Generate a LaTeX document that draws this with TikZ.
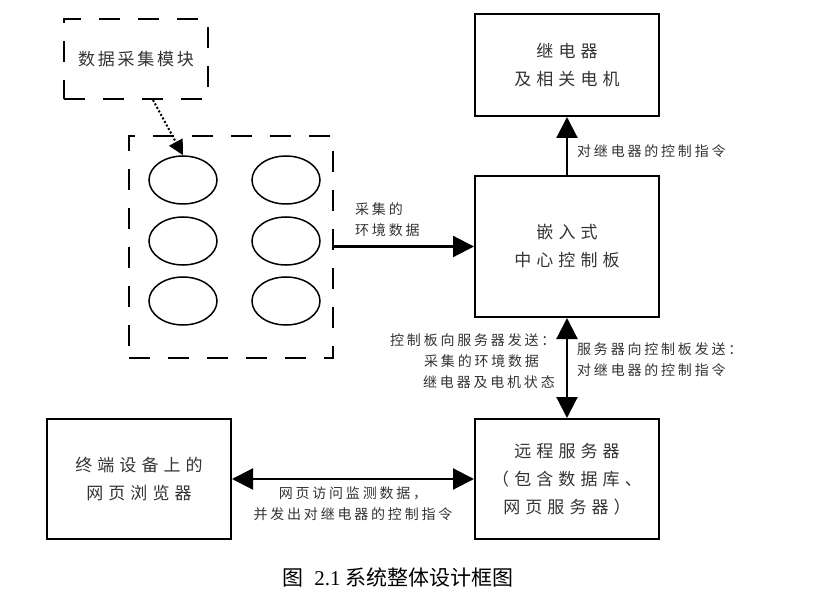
\documentclass[tikz,border=0pt]{standalone}
\usepackage{fontspec}
\setmainfont{Liberation Serif}
\newfontfamily\cjk{Noto Sans CJK SC}
\newfontfamily\boxfont[LetterSpace=30]{Noto Sans CJK SC}
\newfontfamily\modfont[LetterSpace=16]{Noto Sans CJK SC}
\newfontfamily\lblfont[LetterSpace=20]{Noto Sans CJK SC}
\usetikzlibrary{arrows.meta,shapes.geometric}
\tikzset{
  solidbox/.style={draw, line width=2pt, minimum width=184pt, align=center, inner sep=0pt,
    text=black!80, font=\boxfont\fontsize{17}{28}\selectfont},
  dashbox/.style={draw, line width=2pt, dash pattern=on 21pt off 18pt, inner sep=0pt},
  cell/.style={draw, ellipse, line width=1.5pt, minimum width=68pt, minimum height=48pt, inner sep=0pt},
  lbl/.style={inner sep=0pt, text=black!80, font=\lblfont\fontsize{14}{21}\selectfont},
  conn/.style={line width=2.2pt, -{Triangle[length=21pt,width=21pt]}},
  biconn/.style={line width=2.2pt, {Triangle[length=21pt,width=21pt]}-{Triangle[length=21pt,width=21pt]}},
}
\begin{document}
\begin{tikzpicture}[x=1pt,y=-1pt]
\useasboundingbox (0,0) rectangle (823,599);
% data collection module
\node[dashbox, minimum width=144pt, minimum height=80pt, text=black!80,
  font=\modfont\fontsize{17}{24}\selectfont] (mod) at (136,59) {数据采集模块};
% sensor group
\node[dashbox, minimum width=204pt, minimum height=222pt] (grp) at (231,247) {};
\node[cell] (c11) at (183,180) {};
\node[cell] (c12) at (286,180) {};
\node[cell] (c21) at (183,241) {};
\node[cell] (c22) at (286,241) {};
\node[cell] (c31) at (183,301) {};
\node[cell] (c32) at (286,301) {};
\coordinate (modout) at (153,100);
\draw[line width=2pt, dotted, -{Triangle[length=15pt,width=15pt]}] (modout) -- (c11.north);
% boxes
\node[solidbox, minimum height=102pt] (relay) at (567,65) {继电器\\及相关电机};
\node[solidbox, minimum height=141pt] (ctrl) at (567,246.5) {嵌入式\\中心控制板};
\node[solidbox, minimum height=120pt] (srv) at (567,479)
  {远程服务器\\（包含数据库、\\网页服务器）};
\node[solidbox, minimum height=120pt] (web) at (139,479) {终端设备上的\\网页浏览器};
% connectors
\coordinate (grpout) at (grp.east |- ctrl.west);
\draw[conn] (grpout) -- (ctrl.west);
\draw[conn] (ctrl.north) -- (relay.south);
\draw[biconn] (ctrl.south) -- (srv.north);
\draw[biconn] (web.east) -- (srv.west);
% labels
\node[lbl, align=left, anchor=north west] (l1) at (355,202) {采集的\\环境数据};
\node[lbl, anchor=west] (l2) at (577,151) {对继电器的控制指令};
\node[lbl, align=left, anchor=north west] (l3) at (390,333)
  {控制板向服务器发送：\\\hspace*{34pt}采集的环境数据\\\hspace*{33pt}继电器及电机状态};
\node[lbl, align=left, anchor=north west] (l4) at (577,342) {服务器向控制板发送：\\对继电器的控制指令};
\node[lbl, align=center, anchor=north] (l5) at (353,487) {网页访问监测数据，\\并发出对继电器的控制指令};
% caption
\node[inner sep=0pt, font=\fontsize{21}{24}\selectfont] (cap) at (398,578)
  {{\cjk 图}\hspace{11pt}2.1 {\cjk 系统整体设计框图}};
\end{tikzpicture}
\end{document}
